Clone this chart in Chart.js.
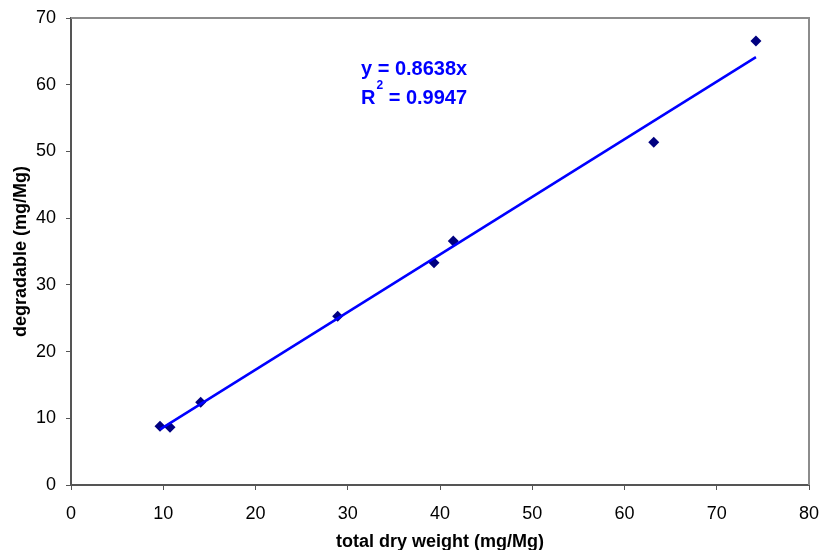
<!DOCTYPE html>
<html>
<head>
<meta charset="utf-8">
<script src="https://cdn.jsdelivr.net/npm/chart.js@4.4.0/dist/chart.umd.min.js"></script>
<style>
  html, body { margin: 0; padding: 0; background: #fff; }
  #wrap { width: 822px; height: 550px; }
</style>
</head>
<body>
<div id="wrap"><canvas id="myChart" width="822" height="550"></canvas></div>
<script>
// measured values
var totalDry = [9.65, 10.73, 14.06, 28.91, 39.35, 41.44, 63.17, 74.25];
var degradable = [8.82, 8.65, 12.42, 25.31, 33.32, 36.56, 51.36, 66.55];
var slope = 0.8638;
var rSquared = 0.9947;
var xTicks = [0, 10, 20, 30, 40, 50, 60, 70, 80];
var yTicks = [0, 10, 20, 30, 40, 50, 60, 70];

var points = [];
for (var i = 0; i < totalDry.length; i++) {
  points.push({ x: totalDry[i], y: degradable[i] });
}
var xMin = Math.min.apply(null, totalDry);
var xMax = Math.max.apply(null, totalDry);
var trend = [
  { x: xMin, y: slope * xMin },
  { x: xMax, y: slope * xMax }
];

var FONT = "'Liberation Sans', Arial, sans-serif";

// grey frame on top/right + trendline label
var framePlugin = {
  id: "frame",
  beforeDatasetsDraw: function (chart) {
    var a = chart.chartArea, ctx = chart.ctx;
    ctx.save();
    ctx.strokeStyle = "#8c8c8c";
    ctx.lineWidth = 2;
    ctx.beginPath();
    ctx.moveTo(a.left, a.top);
    ctx.lineTo(a.right, a.top);
    ctx.lineTo(a.right, a.bottom);
    ctx.stroke();
    ctx.restore();
  },
  afterDraw: function (chart) {
    var ctx = chart.ctx;
    var x = 361;
    ctx.save();
    ctx.fillStyle = "#0000ff";
    ctx.font = "bold 20px " + FONT;
    ctx.textBaseline = "middle";
    ctx.textAlign = "left";
    ctx.fillText("y = " + slope.toFixed(4) + "x", x, 69);
    ctx.fillText("R", x, 98);
    var rw = ctx.measureText("R").width;
    ctx.font = "bold 12px " + FONT;
    ctx.fillText("2", x + rw + 1, 86);
    var sw = ctx.measureText("2").width;
    ctx.font = "bold 20px " + FONT;
    ctx.fillText(" = " + rSquared.toFixed(4), x + rw + sw + 1, 98);
    ctx.restore();
  }
};

new Chart(document.getElementById("myChart").getContext("2d"), {
  type: "scatter",
  data: {
    datasets: [
      {
        label: "trend",
        type: "line",
        data: trend,
        borderColor: "#0000ff",
        borderWidth: 2.5,
        pointRadius: 0,
        fill: false
      },
      {
        label: "degradable",
        data: points,
        pointStyle: "rectRot",
        pointRadius: 5.5,
        backgroundColor: "#000080",
        borderColor: "#000080",
        borderWidth: 0
      }
    ]
  },
  plugins: [framePlugin],
  options: {
    responsive: false,
    animation: false,
    layout: { padding: { left: 0, top: 18, right: 13, bottom: 0 } },
    plugins: { legend: { display: false }, tooltip: { enabled: false } },
    scales: {
      x: {
        type: "linear",
        min: 0,
        max: 80,
        afterFit: function (s) {
          s.height = 65;
          s.paddingLeft = 0;
          s.paddingRight = 0;
        },
        afterBuildTicks: function (s) { s.ticks = xTicks.map(function (v) { return { value: v }; }); },
        border: { display: true, color: "#555", width: 2 },
        grid: { drawOnChartArea: false, drawTicks: true, tickLength: 5, color: "#555" },
        ticks: { color: "#000", font: { family: FONT, size: 18 }, padding: 13, maxRotation: 0 },
        title: {
          display: true,
          text: "total dry weight (mg/Mg)",
          color: "#000",
          font: { family: FONT, size: 18, weight: "bold" },
          padding: { top: 0, bottom: -3 }
        }
      },
      y: {
        type: "linear",
        min: 0,
        max: 70,
        afterFit: function (s) {
          s.width = 71;
          s.paddingTop = 0;
          s.paddingBottom = 0;
        },
        afterBuildTicks: function (s) { s.ticks = yTicks.map(function (v) { return { value: v }; }); },
        border: { display: true, color: "#555", width: 2 },
        grid: { drawOnChartArea: false, drawTicks: true, tickLength: 5, color: "#555" },
        ticks: { color: "#000", font: { family: FONT, size: 18 }, padding: 10 },
        title: {
          display: true,
          text: "degradable (mg/Mg)",
          color: "#000",
          font: { family: FONT, size: 18, weight: "bold" },
          padding: { top: 10, bottom: 0 }
        }
      }
    }
  }
});
</script>
</body>
</html>
